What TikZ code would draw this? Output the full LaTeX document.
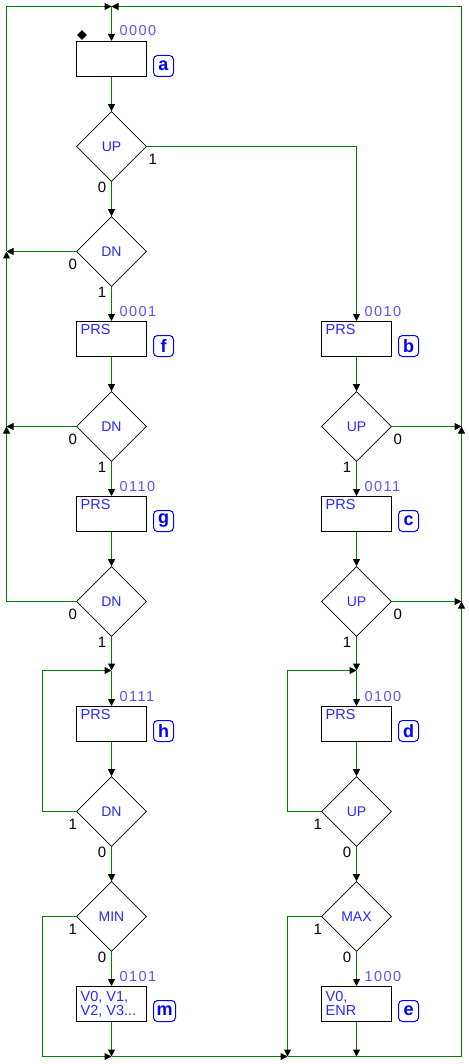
\documentclass[tikz,border=0pt]{standalone}
\usepackage{fontspec}
\setmainfont{Liberation Sans}
\newfontfamily\codefont[LetterSpace=10]{Liberation Sans}
\usetikzlibrary{shapes.geometric,arrows.meta}
\definecolor{wire}{RGB}{0,128,0}
\definecolor{txtblue}{RGB}{40,40,255}
\definecolor{codeblue}{RGB}{95,80,255}
\definecolor{tagblue}{RGB}{0,0,255}
\begin{document}
\begin{tikzpicture}[x=1pt,y=-1pt,
	state/.style={draw,line width=1pt,minimum width=70pt,minimum height=35pt,inner sep=0pt},
	test/.style={draw,line width=0.6pt,diamond,aspect=1,minimum width=70pt,minimum height=70pt,inner sep=0pt,text=txtblue,font=\fontsize{14}{15}\selectfont},
	btxt/.style={anchor=north west,inner sep=0pt,xshift=4.5pt,yshift=-3pt,text=txtblue,align=left,font=\fontsize{14.5}{13.5}\selectfont},
	code/.style={anchor=base west,inner sep=0pt,xshift=8pt,yshift=5pt,text=codeblue,font=\codefont\fontsize{14.5}{16}\selectfont},
	tag/.style={anchor=south west,xshift=6pt,draw=tagblue,text=tagblue,line width=1pt,rounded corners=4pt,minimum width=20pt,minimum height=21pt,inner xsep=3pt,inner ysep=0pt,font=\bfseries\fontsize{18}{18}\selectfont},
	init/.style={diamond,fill=black,minimum size=10pt,inner sep=0pt,xshift=6pt,yshift=6pt},
	lbl/.style={inner sep=0pt,font=\fontsize{15}{15}\selectfont},
	ls/.style={lbl,anchor=north east,xshift=-5pt,yshift=-0.5pt},
	lw/.style={lbl,anchor=north east,xshift=1pt,yshift=-7pt},
	le/.style={lbl,anchor=north west,xshift=1.5pt,yshift=-7pt},
	flow/.style={wire,line width=1pt,-{Triangle[length=7pt,width=7pt,color=black]}}]
\useasboundingbox[fill=white] (0,0) rectangle (468,1064);
\begin{scope}[shift={(0.5,0.5)}]

\coordinate (T) at (111,6);
\coordinate (L1) at (6,251);
\coordinate (L2) at (6,426);
\coordinate (R1) at (461,426);
\coordinate (R2) at (461,601);
\coordinate (J1) at (111,670);
\coordinate (J2) at (356,670);
\coordinate (B1) at (111,1056);
\coordinate (B2) at (287,1056);
\coordinate (B3) at (356,1056);

\node[state] (a) at (111,58.5) {};
\node[init] at (a.north west) {};
\node[code] at (a.north) {0000};
\node[tag] at (a.south east) {a};
\node[test] (UP1) at (111,146) {UP};
\node[test] (DN1) at (111,251) {DN};
\node[state] (f) at (111,338.5) {};
\node[btxt] at (f.north west) {PRS};
\node[code] at (f.north) {0001};
\node[tag] at (f.south east) {f};
\node[test] (DN2) at (111,426) {DN};
\node[state] (g) at (111,513.5) {};
\node[btxt] at (g.north west) {PRS};
\node[code] at (g.north) {0110};
\node[tag] at (g.south east) {g};
\node[test] (DN3) at (111,601) {DN};
\node[state] (h) at (111,723.5) {};
\node[btxt] at (h.north west) {PRS};
\node[code] at (h.north) {0111};
\node[tag] at (h.south east) {h};
\node[test] (DN4) at (111,811) {DN};
\node[test] (MIN) at (111,916) {MIN};
\node[state] (m) at (111,1003.5) {};
\node[btxt,yshift=-2.5pt] at (m.north west) {V0, V1,\\V2, V3...};
\node[code] at (m.north) {0101};
\node[tag] at (m.south east) {m};

\node[state] (b) at (356,338.5) {};
\node[btxt] at (b.north west) {PRS};
\node[code] at (b.north) {0010};
\node[tag] at (b.south east) {b};
\node[test] (UP2) at (356,426) {UP};
\node[state] (c) at (356,513.5) {};
\node[btxt] at (c.north west) {PRS};
\node[code] at (c.north) {0011};
\node[tag] at (c.south east) {c};
\node[test] (UP3) at (356,601) {UP};
\node[state] (d) at (356,723.5) {};
\node[btxt] at (d.north west) {PRS};
\node[code] at (d.north) {0100};
\node[tag] at (d.south east) {d};
\node[test] (UP4) at (356,811) {UP};
\node[test] (MAX) at (356,916) {MAX};
\node[state] (e) at (356,1003.5) {};
\node[btxt,yshift=-2.5pt] at (e.north west) {V0,\\ENR};
\node[code] at (e.north) {1000};
\node[tag] at (e.south east) {e};

\node[ls] at (UP1.south) {0};
\node[le] at (UP1.east) {1};
\node[lw] at (DN1.west) {0};
\node[ls] at (DN1.south) {1};
\node[lw] at (DN2.west) {0};
\node[ls] at (DN2.south) {1};
\node[lw] at (DN3.west) {0};
\node[ls] at (DN3.south) {1};
\node[lw] at (DN4.west) {1};
\node[ls] at (DN4.south) {0};
\node[lw] at (MIN.west) {1};
\node[ls] at (MIN.south) {0};
\node[le] at (UP2.east) {0};
\node[ls] at (UP2.south) {1};
\node[le] at (UP3.east) {0};
\node[ls] at (UP3.south) {1};
\node[lw] at (UP4.west) {1};
\node[ls] at (UP4.south) {0};
\node[lw] at (MAX.west) {1};
\node[ls] at (MAX.south) {0};

\draw[flow] (T) -- (a.north);
\draw[flow] (a.south) -- (UP1.north);
\draw[flow] (UP1.south) -- (DN1.north);
\draw[flow] (DN1.south) -- (f.north);
\draw[flow] (f.south) -- (DN2.north);
\draw[flow] (DN2.south) -- (g.north);
\draw[flow] (g.south) -- (DN3.north);
\draw[flow] (DN3.south) -- (J1);
\draw[flow] (J1) -- (h.north);
\draw[flow] (h.south) -- (DN4.north);
\draw[flow] (DN4.south) -- (MIN.north);
\draw[flow] (MIN.south) -- (m.north);
\draw[flow] (DN4.west) -- ++(-34,0) |- (J1);

\draw[flow] (UP1.east) -| (b.north);
\draw[flow] (b.south) -- (UP2.north);
\draw[flow] (UP2.south) -- (c.north);
\draw[flow] (c.south) -- (UP3.north);
\draw[flow] (UP3.south) -- (J2);
\draw[flow] (J2) -- (d.north);
\draw[flow] (d.south) -- (UP4.north);
\draw[flow] (UP4.south) -- (MAX.north);
\draw[flow] (MAX.south) -- (e.north);
\draw[flow] (UP4.west) -- ++(-34,0) |- (J2);

\draw[flow] (DN1.west) -- (L1);
\draw[flow] (DN2.west) -- (L2);
\draw[flow] (DN3.west) -| (L2);
\draw[flow] (L2) -- (L1);
\draw[flow] (L1) |- (T);
\draw[flow] (UP2.east) -- (R1);
\draw[flow] (UP3.east) -- (R2);
\draw[flow] (R2) -- (R1);
\draw[flow] (R1) |- (T);

\draw[flow] (MIN.west) -- ++(-34,0) |- (B1);
\draw[flow] (m.south) -- (B1);
\draw[flow] (B1) -- (B2);
\draw[flow] (MAX.west) -| (B2);
\draw[flow] (e.south) -- (B3);
\draw[flow] (B2) -| (R2);
\end{scope}
\end{tikzpicture}
\end{document}
